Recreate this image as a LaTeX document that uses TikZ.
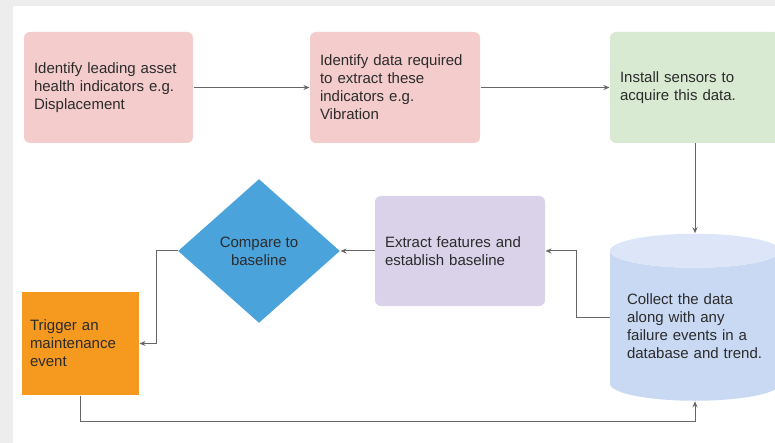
\documentclass[tikz,border=0pt]{standalone}
\usepackage{fontspec}
\setmainfont{Liberation Sans}
\usetikzlibrary{shapes.geometric, arrows.meta}

\definecolor{pinkfill}{HTML}{F4CCCC}
\definecolor{greenfill}{HTML}{D9EAD3}
\definecolor{purplefill}{HTML}{D9D2E9}
\definecolor{bluefill}{HTML}{4BA3DC}
\definecolor{orangefill}{HTML}{F6991F}
\definecolor{dbbody}{HTML}{C9D9F3}
\definecolor{dbtop}{HTML}{DCE6F8}
\definecolor{linegray}{HTML}{666666}
\definecolor{textgray}{HTML}{2B2B2B}

\begin{document}
\begin{tikzpicture}[x=1pt, y=-1pt, >={Stealth[length=6pt, width=5pt]}, line width=1pt]
                \tikzset{stepbox/.style={rectangle, rounded corners=6pt, inner xsep=10pt, inner ysep=0pt, align=left, text=textgray, font=\fontsize{15}{18}\selectfont, minimum height=111pt}};
                \tikzset{flow/.style={draw=linegray, ->}};
                \useasboundingbox (0, 0) rectangle (775, 443);
                \clip (0, 0) rectangle (775, 443);
                \fill[gray!14] (0, 0) rectangle (775, 443);
                \fill[white] (13, 6) rectangle (775, 443);
                \node[stepbox, fill=pinkfill, text width=149pt] (lead) at (108.5, 87.5) {Identify leading asset\\health indicators e.g.\\Displacement};
                \node[stepbox, fill=pinkfill, text width=150pt] (need) at (395, 87.5) {Identify data required\\to extract these\\indicators e.g.\\Vibration};
                \node[stepbox, fill=greenfill, text width=150pt] (sens) at (695, 87.5) {Install sensors to\\acquire this data.};
                \node[shape=cylinder, shape border rotate=90, aspect=0.25, cylinder uses custom fill, cylinder body fill=dbbody, cylinder end fill=dbtop, minimum width=170pt, minimum height=167pt, inner sep=0pt, text width=136pt, align=left, text=textgray, font=\fontsize{15}{18}\selectfont] (db) at (695, 326) {Collect the data\\along with any\\failure events in a\\database and trend.};
                \node[stepbox, fill=purplefill, text width=150pt, minimum height=110pt] (feat) at (460, 251) {Extract features and\\establish baseline};
                \node[shape=diamond, fill=bluefill, minimum width=162pt, minimum height=144pt, inner sep=0pt, align=center, text=textgray, font=\fontsize{15}{18}\selectfont] (cmp) at (259, 251) {Compare to\\baseline};
                \node[stepbox, rounded corners=0pt, fill=orangefill, text width=101pt, inner xsep=8pt, minimum height=103pt] (trig) at (80.5, 343.5) {Trigger an\\maintenance\\event};
                % connectors
                \draw[flow] (lead) -- (need);
                \draw[flow] (need) -- (sens);
                \draw[flow] (sens) -- (db);
                \draw[flow] ([yshift=9pt]db.west) -- ++(-33, 0) |- (feat.east);
                \draw[flow] (feat) -- (cmp);
                \draw[flow] (cmp.west) -- ++(-21, 0) |- (trig.east);
                \draw[flow] (trig.south) -- ++(0, 26) -| (db.south);
            \end{tikzpicture}
\end{document}
